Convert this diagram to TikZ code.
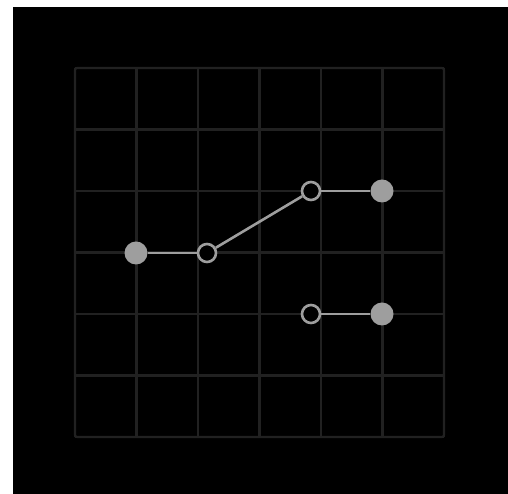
\documentclass[tikz,border=0pt]{standalone}
\begin{document}
\begin{tikzpicture}[x=1pt,y=1pt,
  gridline/.style={draw=black!87!white, line width=2.2pt},
  seg/.style={draw=black!38!white, line width=2.6pt},
  fullpt/.style={circle, fill=black!38!white, inner sep=0pt, minimum size=23pt},
  openpt/.style={circle, draw=black!38!white, fill=black, line width=2.6pt, inner sep=0pt, minimum size=18pt}]
\useasboundingbox (0,0) rectangle (508,494);
\fill[white] (0,0) rectangle (508,494);
\fill[black] (13,0) rectangle (508,487);
% grid
\foreach \i in {0,...,6} {
  \draw[gridline] ({75+61.5*\i},426) -- ({75+61.5*\i},57);
  \draw[gridline] (75,{426-61.5*\i}) -- (444,{426-61.5*\i});
}
\draw[gridline, rounded corners=2pt] (75,57) rectangle (444,426);
% points
\node[fullpt] (a) at (136,241) {};
\node[openpt] (b) at (207,241) {};
\node[openpt] (c) at (311,303) {};
\node[fullpt] (d) at (382,303) {};
\node[openpt] (e) at (311,180) {};
\node[fullpt] (f) at (382,180) {};
\draw[seg] (a) -- (b);
\draw[seg] (b) -- (c);
\draw[seg] (c) -- (d);
\draw[seg] (e) -- (f);
\end{tikzpicture}
\end{document}
